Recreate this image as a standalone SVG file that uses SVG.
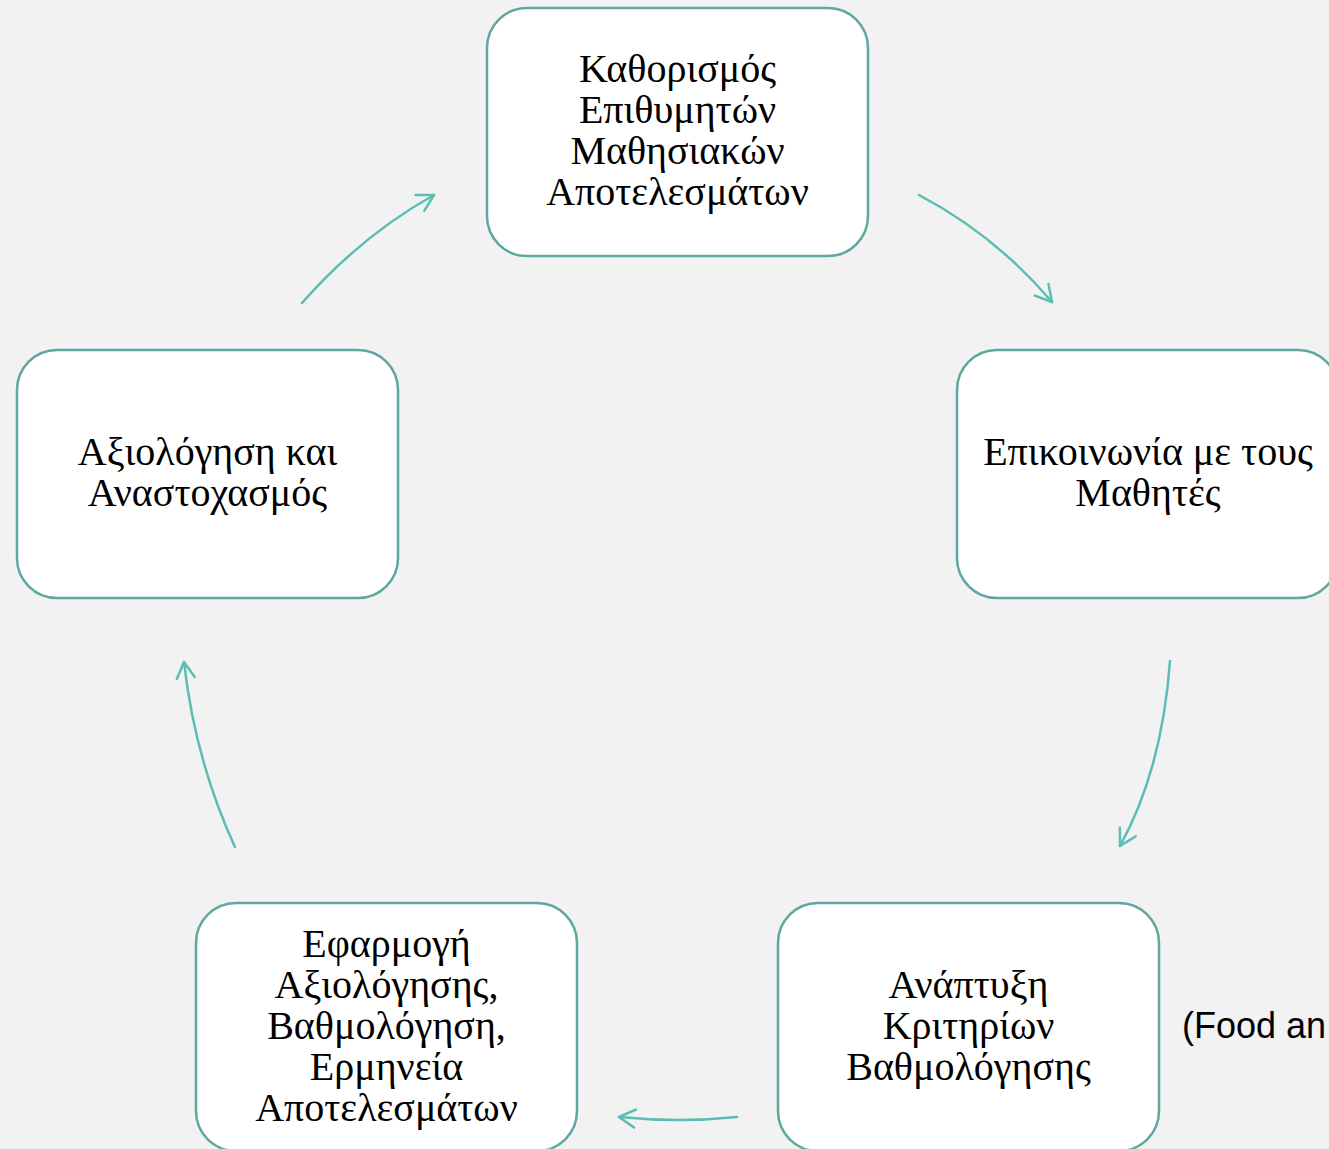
<svg xmlns="http://www.w3.org/2000/svg" width="1329" height="1149" viewBox="0 0 1329 1149">
<style>
.box{fill:#ffffff;stroke:#5ea8a1;stroke-width:2.5}
.t{font-family:"Liberation Serif","Times New Roman",serif;font-size:40px;fill:#000;text-anchor:middle}
.c{fill:none;stroke:#5bbdb3;stroke-width:2.5;stroke-linecap:round}
</style>
<defs>
<marker id="ah" markerUnits="userSpaceOnUse" viewBox="-20 -12 24 24" refX="0" refY="0" markerWidth="24" markerHeight="24" orient="auto">
<path d="M-16,-9 L0,0 L-16,9" fill="none" stroke="#5bbdb3" stroke-width="2.5" stroke-linecap="round" stroke-linejoin="round"/>
</marker>
</defs>
<rect width="1329" height="1149" fill="#f2f2f2"/>
<g id="n1">
<rect class="box" x="487" y="8" width="381" height="248" rx="40"/>
<text class="t" x="677.5" y="82">Καθορισμός</text>
<text class="t" x="677.5" y="123">Επιθυμητών</text>
<text class="t" x="677.5" y="164">Μαθησιακών</text>
<text class="t" x="677.5" y="205">Αποτελεσμάτων</text>
</g>
<g id="n2">
<rect class="box" x="957" y="350" width="381" height="248" rx="40"/>
<text class="t" x="1148" y="465">Επικοινωνία με τους</text>
<text class="t" x="1148" y="506">Μαθητές</text>
</g>
<g id="n3">
<rect class="box" x="778" y="903" width="381" height="248" rx="40"/>
<text class="t" x="968.5" y="998">Ανάπτυξη</text>
<text class="t" x="968.5" y="1039">Κριτηρίων</text>
<text class="t" x="968.5" y="1080">Βαθμολόγησης</text>
</g>
<g id="n4">
<rect class="box" x="196" y="903" width="381" height="248" rx="40"/>
<text class="t" x="386.5" y="957">Εφαρμογή</text>
<text class="t" x="386.5" y="998">Αξιολόγησης,</text>
<text class="t" x="386.5" y="1039">Βαθμολόγηση,</text>
<text class="t" x="386.5" y="1080">Ερμηνεία</text>
<text class="t" x="386.5" y="1121">Αποτελεσμάτων</text>
</g>
<g id="n5">
<rect class="box" x="17" y="350" width="381" height="248" rx="40"/>
<text class="t" x="207.5" y="465">Αξιολόγηση και</text>
<text class="t" x="207.5" y="506">Αναστοχασμός</text>
</g>
<g id="connectors">
<path class="c" d="M919,195 Q995,235 1052,302" marker-end="url(#ah)"/>
<path class="c" d="M1170,661 Q1162,770 1120,846" marker-end="url(#ah)"/>
<path class="c" d="M737,1117 Q680,1123 619,1117" marker-end="url(#ah)"/>
<path class="c" d="M235,847 Q195,760 184,662" marker-end="url(#ah)"/>
<path class="c" d="M302,303 Q362,235 434,195" marker-end="url(#ah)"/>
</g>
<text x="1182" y="1038" font-family="Liberation Sans, Arial, sans-serif" font-size="36" fill="#000">(Food an</text>
</svg>
